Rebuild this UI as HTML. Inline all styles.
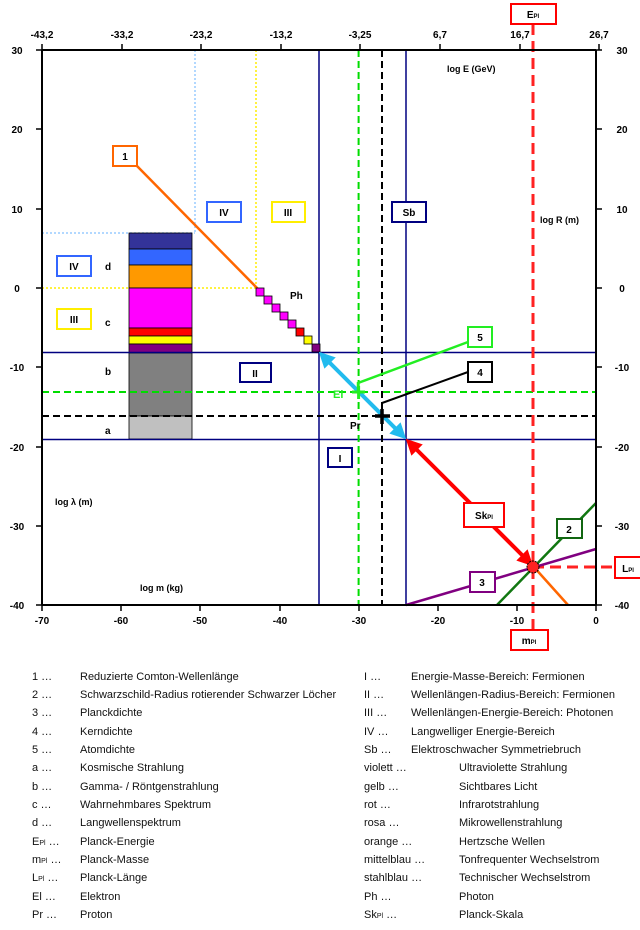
<!DOCTYPE html>
<html><head><meta charset="utf-8"><style>
body{margin:0;background:#fff;}
svg{display:block;font-family:"Liberation Sans",Arial,sans-serif;}
.t{font-size:10px;font-weight:bold;}
.l{font-size:11px;fill:#111;}
</style></head><body>
<svg width="640" height="930" viewBox="0 0 640 930" xmlns="http://www.w3.org/2000/svg">
<defs>
<marker id="ac" markerWidth="4" markerHeight="4" refX="2.5" refY="2" orient="auto-start-reverse" markerUnits="strokeWidth"><path d="M0,0 L4,2 L0,4 z" fill="#22bbee"/></marker>
<marker id="ar" markerWidth="4" markerHeight="4" refX="2.5" refY="2" orient="auto-start-reverse" markerUnits="strokeWidth"><path d="M0,0 L4,2 L0,4 z" fill="#ff0000"/></marker>
</defs>
<!-- dotted guides -->
<line x1="195" y1="50" x2="195" y2="233" stroke="#99ccff" stroke-width="1.5" stroke-dasharray="2,2"/>
<line x1="42" y1="233" x2="195" y2="233" stroke="#99ccff" stroke-width="1.5" stroke-dasharray="2,2"/>
<line x1="256" y1="50" x2="256" y2="288" stroke="#ffee00" stroke-width="1.5" stroke-dasharray="2,2"/>
<line x1="42" y1="288" x2="256" y2="288" stroke="#ffee00" stroke-width="1.5" stroke-dasharray="2,2"/>
<!-- bars -->
<g stroke="#000" stroke-width="0.8">
<rect x="129" y="233" width="63" height="16" fill="#333399"/>
<rect x="129" y="249" width="63" height="16" fill="#3366ff"/>
<rect x="129" y="265" width="63" height="23" fill="#ff9900"/>
<rect x="129" y="288" width="63" height="40" fill="#ff00ff"/>
<rect x="129" y="328" width="63" height="8" fill="#ff0000"/>
<rect x="129" y="336" width="63" height="8" fill="#ffff00"/>
<rect x="129" y="344" width="63" height="9" fill="#800080"/>
<rect x="129" y="353" width="63" height="63" fill="#808080"/>
<rect x="129" y="416" width="63" height="23" fill="#c0c0c0"/>
</g>
<!-- navy lines -->
<g stroke="#000080" stroke-width="1.5">
<line x1="319" y1="50" x2="319" y2="605"/>
<line x1="406" y1="50" x2="406" y2="605"/>
<line x1="42" y1="352.5" x2="596" y2="352.5"/>
<line x1="42" y1="439.5" x2="596" y2="439.5"/>
</g>
<!-- dashed -->
<line x1="358.6" y1="50" x2="358.6" y2="605" stroke="#00dd00" stroke-width="2" stroke-dasharray="7,4"/>
<line x1="42" y1="392" x2="596" y2="392" stroke="#00dd00" stroke-width="2" stroke-dasharray="7,4"/>
<line x1="382" y1="50" x2="382" y2="605" stroke="#000" stroke-width="2" stroke-dasharray="7,4"/>
<line x1="42" y1="416" x2="596" y2="416" stroke="#000" stroke-width="2" stroke-dasharray="7,4"/>
<line x1="533" y1="24" x2="533" y2="630" stroke="#ff2222" stroke-width="3" stroke-dasharray="11,6"/>
<line x1="533" y1="567" x2="615" y2="567" stroke="#ff2222" stroke-width="3" stroke-dasharray="11,6"/>
<!-- orange line 1 -->
<line x1="137" y1="166" x2="258" y2="289" stroke="#ff6600" stroke-width="2.5"/>
<line x1="533" y1="566" x2="568" y2="605" stroke="#ff6600" stroke-width="2.5"/>
<!-- steps -->
<g stroke="#000" stroke-width="0.8">
<rect x="256" y="288" width="8" height="8" fill="#ff00ff"/>
<rect x="264" y="296" width="8" height="8" fill="#ff00ff"/>
<rect x="272" y="304" width="8" height="8" fill="#ff00ff"/>
<rect x="280" y="312" width="8" height="8" fill="#ff00ff"/>
<rect x="288" y="320" width="8" height="8" fill="#ff00ff"/>
<rect x="296" y="328" width="8" height="8" fill="#ff0000"/>
<rect x="304" y="336" width="8" height="8" fill="#ffff00"/>
<rect x="312" y="344" width="8" height="8" fill="#800080"/>
</g>
<!-- arrows -->
<line x1="323" y1="356" x2="402" y2="435" stroke="#22bbee" stroke-width="4" marker-start="url(#ac)" marker-end="url(#ac)"/>
<line x1="410" y1="443" x2="529" y2="562" stroke="#ff0000" stroke-width="4" marker-start="url(#ar)" marker-end="url(#ar)"/>
<!-- 2,3 -->
<line x1="497" y1="605" x2="596" y2="503" stroke="#117711" stroke-width="2.5"/>
<line x1="406" y1="605" x2="596" y2="549" stroke="#800080" stroke-width="2.5"/>
<circle cx="533" cy="567" r="6" fill="#ff2222" stroke="#000" stroke-width="1" stroke-dasharray="2,1"/>
<!-- 4,5 -->
<polyline points="358,392 358,383 468,342" fill="none" stroke="#22ee22" stroke-width="2.5"/>
<polyline points="382,416 382,403 468,372" fill="none" stroke="#000" stroke-width="2"/>
<!-- crosses -->
<path d="M352,392 h13 M358.6,386 v13" stroke="#22ee22" stroke-width="3"/>
<path d="M375,416 h15 M382,409 v15" stroke="#000" stroke-width="3.5"/>
<!-- axes -->
<g stroke="#000" stroke-width="2" fill="none">
<line x1="42" y1="50" x2="596" y2="50"/>
<line x1="42" y1="605" x2="596" y2="605"/>
<line x1="42" y1="50" x2="42" y2="605"/>
<line x1="596" y1="50" x2="596" y2="605"/>
</g>
<g stroke="#000" stroke-width="1.5">
<path d="M42,605v6 M121,605v6 M200,605v6 M280,605v6 M359,605v6 M438,605v6 M517,605v6 M596,605v6"/>
<path d="M42,50v-6 M122,50v-6 M201,50v-6 M281,50v-6 M360,50v-6 M440,50v-6 M520,50v-6 M599,50v-6"/>
<path d="M36,50h6 M36,129h6 M36,209h6 M36,288h6 M36,367h6 M36,447h6 M36,526h6 M36,605h6"/>
<path d="M596,50h6 M596,129h6 M596,209h6 M596,288h6 M596,367h6 M596,447h6 M596,526h6 M596,605h6"/>
</g>
<!-- tick labels -->
<g class="t" text-anchor="middle">
<text x="42" y="624">-70</text><text x="121" y="624">-60</text><text x="200" y="624">-50</text><text x="280" y="624">-40</text><text x="359" y="624">-30</text><text x="438" y="624">-20</text><text x="517" y="624">-10</text><text x="596" y="624">0</text>
<text x="42" y="38">-43,2</text><text x="122" y="38">-33,2</text><text x="201" y="38">-23,2</text><text x="281" y="38">-13,2</text><text x="360" y="38">-3,25</text><text x="440" y="38">6,7</text><text x="520" y="38">16,7</text><text x="599" y="38">26,7</text>
</g>
<g class="t" text-anchor="middle">
<text x="17" y="54">30</text><text x="17" y="133">20</text><text x="17" y="213">10</text><text x="17" y="292">0</text><text x="17" y="371">-10</text><text x="17" y="451">-20</text><text x="17" y="530">-30</text><text x="17" y="609">-40</text>
<text x="622" y="54">30</text><text x="622" y="133">20</text><text x="622" y="213">10</text><text x="622" y="292">0</text><text x="622" y="371">-10</text><text x="622" y="451">-20</text><text x="622" y="530">-30</text><text x="622" y="609">-40</text>
</g>
<!-- axis titles -->
<g class="t">
<text x="447" y="72" font-size="9">log E (GeV)</text>
<text x="540" y="223" font-size="9">log R (m)</text>
<text x="55" y="505" font-size="9">log λ (m)</text>
<text x="140" y="591" font-size="9">log m (kg)</text>
<text x="290" y="299" font-size="10">Ph</text>
<text x="333" y="398" font-size="11" fill="#22ee22">El</text>
<text x="350" y="429" font-size="10">Pr</text>
<text x="105" y="270" font-size="10">d</text>
<text x="105" y="326" font-size="10">c</text>
<text x="105" y="375" font-size="10">b</text>
<text x="105" y="434" font-size="10">a</text>
</g>
<!-- boxes -->
<g fill="#fff" stroke-width="2">
<rect x="113" y="146" width="24" height="20" stroke="#ff6600"/>
<rect x="207" y="202" width="34" height="20" stroke="#3366ff"/>
<rect x="272" y="202" width="33" height="20" stroke="#ffee00"/>
<rect x="392" y="202" width="34" height="20" stroke="#000080"/>
<rect x="57" y="256" width="34" height="20" stroke="#3366ff"/>
<rect x="57" y="309" width="34" height="20" stroke="#ffee00"/>
<rect x="240" y="363" width="31" height="19" stroke="#000080"/>
<rect x="328" y="448" width="24" height="19" stroke="#000080"/>
<rect x="468" y="327" width="24" height="20" stroke="#22ee22"/>
<rect x="468" y="362" width="24" height="20" stroke="#000"/>
<rect x="464" y="503" width="40" height="24" stroke="#ff0000"/>
<rect x="557" y="519" width="25" height="19" stroke="#116611"/>
<rect x="470" y="572" width="25" height="20" stroke="#800080"/>
<rect x="615" y="557" width="28" height="21" stroke="#ff0000"/>
<rect x="511" y="630" width="37" height="20" stroke="#ff0000"/>
<rect x="511" y="4" width="45" height="20" stroke="#ff0000"/>
</g>
<g class="t" text-anchor="middle" font-size="11">
<text x="125" y="160">1</text>
<text x="224" y="216">IV</text>
<text x="288" y="216">III</text>
<text x="409" y="216">Sb</text>
<text x="74" y="270">IV</text>
<text x="74" y="323">III</text>
<text x="255" y="377">II</text>
<text x="340" y="462">I</text>
<text x="480" y="341">5</text>
<text x="480" y="376">4</text>
<text x="484" y="519">Sk<tspan font-size="6">Pl</tspan></text>
<text x="569" y="533">2</text>
<text x="482" y="586">3</text>
<text x="628" y="572">L<tspan font-size="6">Pl</tspan></text>
<text x="529" y="644">m<tspan font-size="6">Pl</tspan></text>
<text x="533" y="18">E<tspan font-size="6">Pl</tspan></text>
</g>
<!-- legend -->
<g class="l">
<text x="32" y="680">1 …</text><text x="80" y="680">Reduzierte Comton-Wellenlänge</text>
<text x="32" y="698">2 …</text><text x="80" y="698">Schwarzschild-Radius rotierender Schwarzer Löcher</text>
<text x="32" y="716">3 …</text><text x="80" y="716">Planckdichte</text>
<text x="32" y="735">4 …</text><text x="80" y="735">Kerndichte</text>
<text x="32" y="753">5 …</text><text x="80" y="753">Atomdichte</text>
<text x="32" y="771">a …</text><text x="80" y="771">Kosmische Strahlung</text>
<text x="32" y="790">b …</text><text x="80" y="790">Gamma- / Röntgenstrahlung</text>
<text x="32" y="808">c …</text><text x="80" y="808">Wahrnehmbares Spektrum</text>
<text x="32" y="826">d …</text><text x="80" y="826">Langwellenspektrum</text>
<text x="32" y="845">E<tspan font-size="7">Pl</tspan> …</text><text x="80" y="845">Planck-Energie</text>
<text x="32" y="863">m<tspan font-size="7">Pl</tspan> …</text><text x="80" y="863">Planck-Masse</text>
<text x="32" y="881">L<tspan font-size="7">Pl</tspan> …</text><text x="80" y="881">Planck-Länge</text>
<text x="32" y="900">El …</text><text x="80" y="900">Elektron</text>
<text x="32" y="918">Pr …</text><text x="80" y="918">Proton</text>
<text x="364" y="680">I …</text><text x="411" y="680">Energie-Masse-Bereich: Fermionen</text>
<text x="364" y="698">II …</text><text x="411" y="698">Wellenlängen-Radius-Bereich: Fermionen</text>
<text x="364" y="716">III …</text><text x="411" y="716">Wellenlängen-Energie-Bereich: Photonen</text>
<text x="364" y="735">IV …</text><text x="411" y="735">Langwelliger Energie-Bereich</text>
<text x="364" y="753">Sb …</text><text x="411" y="753">Elektroschwacher Symmetriebruch</text>
<text x="364" y="771">violett …</text><text x="459" y="771">Ultraviolette Strahlung</text>
<text x="364" y="790">gelb …</text><text x="459" y="790">Sichtbares Licht</text>
<text x="364" y="808">rot …</text><text x="459" y="808">Infrarotstrahlung</text>
<text x="364" y="826">rosa …</text><text x="459" y="826">Mikrowellenstrahlung</text>
<text x="364" y="845">orange …</text><text x="459" y="845">Hertzsche Wellen</text>
<text x="364" y="863">mittelblau …</text><text x="459" y="863">Tonfrequenter Wechselstrom</text>
<text x="364" y="881">stahlblau …</text><text x="459" y="881">Technischer Wechselstrom</text>
<text x="364" y="900">Ph …</text><text x="459" y="900">Photon</text>
<text x="364" y="918">Sk<tspan font-size="7">Pl</tspan> …</text><text x="459" y="918">Planck-Skala</text>
</g>
</svg>
</body></html>
